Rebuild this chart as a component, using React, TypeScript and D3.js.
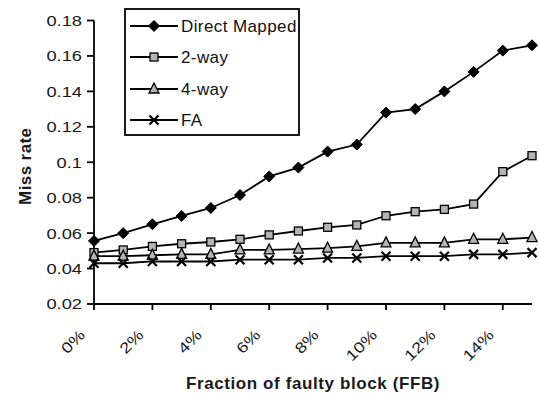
import React from "react";
import * as d3 from "d3";

// Fraction of faulty blocks, one category per percent
const categories = ["0%","1%","2%","3%","4%","5%","6%","7%","8%","9%","10%","11%","12%","13%","14%","15%"];
const yTicks = [0.02, 0.04, 0.06, 0.08, 0.1, 0.12, 0.14, 0.16, 0.18];

const directMapped = [0.0556, 0.06, 0.065, 0.0697, 0.0742, 0.0815, 0.092, 0.097, 0.106, 0.11, 0.128, 0.13, 0.14, 0.151, 0.163, 0.166];
const twoWay = [0.049, 0.0505, 0.0525, 0.054, 0.055, 0.0565, 0.059, 0.0612, 0.0633, 0.0646, 0.0698, 0.0721, 0.0734, 0.0764, 0.0947, 0.1037];
const fourWay = [0.047, 0.047, 0.0475, 0.048, 0.048, 0.0505, 0.0505, 0.051, 0.0515, 0.0525, 0.0545, 0.0545, 0.0545, 0.0565, 0.0565, 0.0575];
const fullyAssoc = [0.043, 0.043, 0.044, 0.044, 0.044, 0.045, 0.045, 0.045, 0.046, 0.046, 0.047, 0.047, 0.047, 0.048, 0.048, 0.049];

const seriesNames = ["Direct Mapped", "2-way", "4-way", "FA"];

type MarkerKind = "diamond" | "square" | "triangle" | "cross";

const series: { name: string; values: number[]; marker: MarkerKind }[] = [
  { name: seriesNames[0], values: directMapped, marker: "diamond" },
  { name: seriesNames[1], values: twoWay, marker: "square" },
  { name: seriesNames[2], values: fourWay, marker: "triangle" },
  { name: seriesNames[3], values: fullyAssoc, marker: "cross" },
];

const W = 539;
const H = 394;
const left = 94;
const right = 532;
const top = 20.5;
const bottom = 304;

const FONT = "'Liberation Sans', Arial, Helvetica, sans-serif";
const GRAY = "#b4b4b4";
const STROKE = 1.8;

function Marker({ kind, x, y }: { kind: MarkerKind; x: number; y: number }) {
  if (kind === "diamond") {
    const r = 5.5;
    return (
      <path
        d={`M${x},${y - r}L${x + r},${y}L${x},${y + r}L${x - r},${y}Z`}
        fill="#000"
        stroke="#000"
        strokeWidth={1}
      />
    );
  }
  if (kind === "square") {
    const s = 8;
    return <rect x={x - s / 2} y={y - s / 2} width={s} height={s} fill={GRAY} stroke="#000" strokeWidth={1.3} />;
  }
  if (kind === "triangle") {
    const r = 5;
    return (
      <path
        d={`M${x},${y - r - 1}L${x + r},${y + r - 1}L${x - r},${y + r - 1}Z`}
        fill={GRAY}
        stroke="#000"
        strokeWidth={1.3}
      />
    );
  }
  const r = 4.5;
  return (
    <path
      d={`M${x - r},${y - r}L${x + r},${y + r}M${x + r},${y - r}L${x - r},${y + r}`}
      stroke="#000"
      strokeWidth={2.2}
      fill="none"
    />
  );
}

export default function App() {
  const x = d3.scaleLinear().domain([0, categories.length - 1]).range([left, right]);
  const y = d3.scaleLinear().domain([0.02, 0.18]).range([bottom, top]);
  const line = d3
    .line<number>()
    .x((_, i) => x(i))
    .y((v) => y(v));

  const legendX = 125;
  const legendY = 9;
  const legendRows = [26, 57, 89, 120];

  return (
    <svg width={W} height={H} style={{ position: "absolute", left: 0, top: 0, background: "#fff" }}>
      {/* axes */}
      <line x1={left} x2={left} y1={top} y2={bottom} stroke="#000" strokeWidth={STROKE} />
      <line x1={left} x2={right} y1={bottom} y2={bottom} stroke="#000" strokeWidth={STROKE} />

      {yTicks.map((t) => (
        <g key={t}>
          <line x1={left - 7} x2={left} y1={y(t)} y2={y(t)} stroke="#000" strokeWidth={STROKE} />
          <text
            transform={`translate(82,${y(t)}) scale(1.22,1)`}
            dy="0.36em"
            textAnchor="end"
            fontFamily={FONT}
            fontSize={15}
            fill="#1a1a1a"
          >
            {d3.format("")(+t.toFixed(2))}
          </text>
        </g>
      ))}

      {categories.map((c, i) =>
        i % 2 === 0 ? (
          <g key={c}>
            <line x1={x(i)} x2={x(i)} y1={bottom} y2={bottom + 6} stroke="#000" strokeWidth={STROKE} />
            <text
              transform={`translate(${x(i) - 8},${336}) rotate(-45) scale(1.22,1)`}
              textAnchor="end"
              fontFamily={FONT}
              fontSize={15}
              fill="#1a1a1a"
            >
              {c}
            </text>
          </g>
        ) : null
      )}

      {/* series lines then markers */}
      {series.map((s) => (
        <g key={s.name}>
          <path d={line(s.values) ?? ""} fill="none" stroke="#000" strokeWidth={STROKE} />
          {s.values.map((v, i) => (
            <Marker key={i} kind={s.marker} x={x(i)} y={y(v)} />
          ))}
        </g>
      ))}

      {/* legend */}
      <rect x={legendX} y={legendY} width={174} height={126} fill="#fff" stroke="#000" strokeWidth={STROKE} />
      {series.map((s, i) => (
        <g key={s.name}>
          <line x1={130} x2={178} y1={legendRows[i]} y2={legendRows[i]} stroke="#000" strokeWidth={STROKE} />
          <Marker kind={s.marker} x={154} y={legendRows[i]} />
          <text
            x={181}
            y={legendRows[i]}
            dy="0.36em"
            fontFamily={FONT}
            fontSize={17}
            letterSpacing={0.4}
            fill="#111"
          >
            {s.name}
          </text>
        </g>
      ))}

      {/* axis titles */}
      <text
        x={(left + right) / 2}
        y={389}
        textAnchor="middle"
        fontFamily={FONT}
        fontWeight="bold"
        fontSize={17}
        letterSpacing={0.6}
        fill="#1a1a1a"
      >
        Fraction of faulty block (FFB)
      </text>
      <text
        transform={`translate(31,${(top + bottom) / 2 + 4}) rotate(-90)`}
        textAnchor="middle"
        fontFamily={FONT}
        fontWeight="bold"
        fontSize={17}
        letterSpacing={0.4}
        fill="#1a1a1a"
      >
        Miss rate
      </text>
    </svg>
  );
}
